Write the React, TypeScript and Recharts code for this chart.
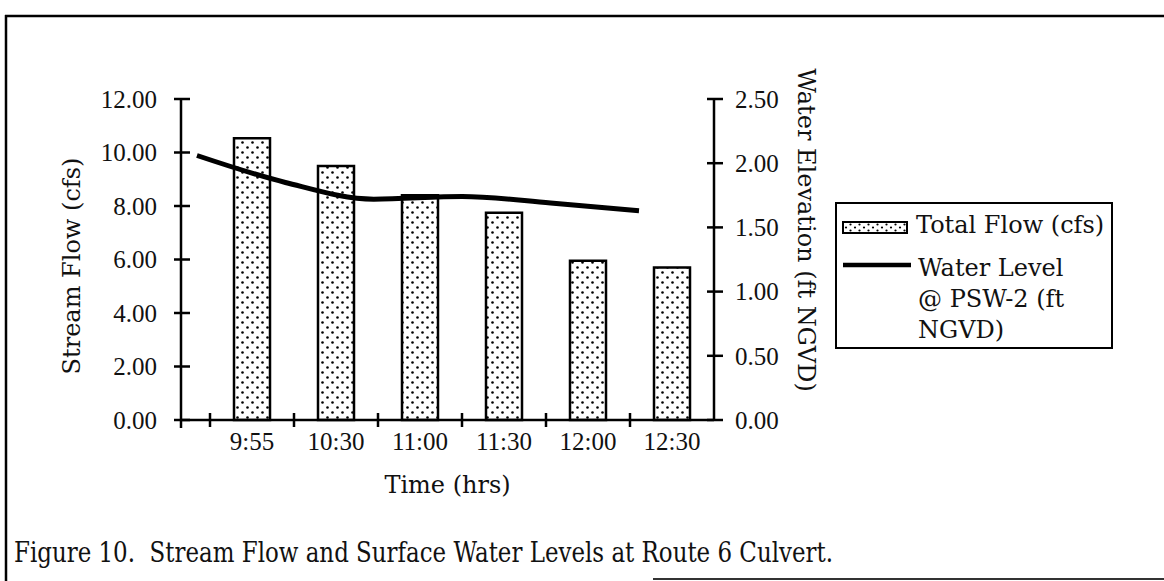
import React from "react";
import {
  ComposedChart,
  Bar,
  Line,
  XAxis,
  YAxis,
  Legend,
  Customized,
} from "recharts";

// values
const times = ["9:55", "10:30", "11:00", "11:30", "12:00", "12:30"];
const totalFlow = [10.53, 9.5, 8.4, 7.75, 5.95, 5.7];
const waterLevel = [2.06, 1.85, 1.72, 1.74, 1.69, 1.63];
const flowTicks = [0, 2, 4, 6, 8, 10, 12];
const levelTicks = [0, 0.5, 1, 1.5, 2, 2.5];

const flowName = "Total Flow (cfs)";
const levelNameLines = ["Water Level", "@ PSW-2 (ft", "NGVD)"];
const caption = "Figure 10.  Stream Flow and Surface Water Levels at Route 6 Culvert.";

const data = times.map((time, i) => ({
  time,
  pos: i,
  flow: totalFlow[i],
  level: waterLevel[i],
}));

// layout
const W = 1164;
const H = 581;
const PLOT_LEFT = 181;
const PLOT_RIGHT = 714;
const PLOT_TOP = 99;
const PLOT_BOTTOM = 420;
const AXIS_W = 100;
const X_AXIS_H = 60;
const CAT_PAD_LEFT = 29;
const HALF_BAND = (PLOT_RIGHT - PLOT_LEFT - CAT_PAD_LEFT) / times.length / 2;

const WORD_FONT = "'DejaVu Serif', serif";
const NUM_FONT = "'Liberation Serif', serif";

const FlowTick = (props: any) => {
  const { x, y, payload } = props;
  return (
    <g>
      <line x1={x - 7} x2={x + 9} y1={y} y2={y} stroke="#000" strokeWidth={2.5} />
      {payload.value === 0 && (
        <line x1={x} x2={x} y1={y} y2={y + 8} stroke="#000" strokeWidth={2.5} />
      )}
      <text
        x={x - 24}
        y={y}
        dy="0.35em"
        textAnchor="end"
        fontFamily={NUM_FONT}
        fontSize={25}
        fill="#111"
      >
        {Number(payload.value).toFixed(2)}
      </text>
    </g>
  );
};

const LevelTick = (props: any) => {
  const { x, y, payload } = props;
  return (
    <g>
      <line x1={x - 7} x2={x + 9} y1={y} y2={y} stroke="#000" strokeWidth={2.5} />
      <text
        x={x + 21}
        y={y}
        dy="0.35em"
        textAnchor="start"
        fontFamily={NUM_FONT}
        fontSize={25}
        fill="#111"
      >
        {Number(payload.value).toFixed(2)}
      </text>
    </g>
  );
};

const TimeTick = (props: any) => {
  const { x, y, payload } = props;
  return (
    <g>
      <line
        x1={x - HALF_BAND}
        x2={x - HALF_BAND}
        y1={y - 7}
        y2={y + 7}
        stroke="#000"
        strokeWidth={2.5}
      />
      <text
        x={x}
        y={y + 30}
        textAnchor="middle"
        fontFamily={NUM_FONT}
        fontSize={25}
        fill="#111"
      >
        {payload.value}
      </text>
    </g>
  );
};

const LegendBox = () => (
  <svg width={278} height={147} style={{ display: "block" }}>
    <rect x={1} y={1} width={276} height={145} fill="#fff" stroke="#000" strokeWidth={2} />
    <rect x={8} y={20} width={64} height={11} fill="url(#dotsSmall)" stroke="#000" strokeWidth={2} />
    <text x={81} y={31} fontFamily={WORD_FONT} fontSize={24} fill="#111">
      {flowName}
    </text>
    <line x1={8} x2={76} y1={63} y2={63} stroke="#000" strokeWidth={4.5} />
    {levelNameLines.map((t, i) => (
      <text
        key={t}
        x={83}
        y={74 + i * 31}
        fontFamily={WORD_FONT}
        fontSize={24}
        fill="#111"
      >
        {t}
      </text>
    ))}
  </svg>
);

const Frame = () => (
  <g>
    <line x1={5} x2={W} y1={16} y2={16} stroke="#000" strokeWidth={2.5} />
    <line x1={6} x2={6} y1={15} y2={H} stroke="#000" strokeWidth={2.5} />
    <line x1={653} x2={W} y1={579} y2={579} stroke="#333" strokeWidth={2} />
    <text
      transform="translate(72 266) rotate(-90)"
      textAnchor="middle"
      dominantBaseline="central"
      fontFamily={WORD_FONT}
      fontSize={24}
      fill="#111"
    >
      Stream Flow (cfs)
    </text>
    <text
      transform="translate(806 230) rotate(90)"
      textAnchor="middle"
      dominantBaseline="central"
      fontFamily={WORD_FONT}
      fontSize={24}
      fill="#111"
    >
      Water Elevation (ft NGVD)
    </text>
    <text
      x={(PLOT_LEFT + PLOT_RIGHT) / 2}
      y={493}
      textAnchor="middle"
      fontFamily={WORD_FONT}
      fontSize={24}
      fill="#111"
    >
      Time (hrs)
    </text>
    <text
      x={14}
      y={562}
      fontFamily={WORD_FONT}
      fontSize={27}
      textLength={819}
      lengthAdjust="spacingAndGlyphs"
      style={{ whiteSpace: "pre" }}
      fill="#111"
    >
      {caption}
    </text>
  </g>
);

export default function App() {
  return (
    <div style={{ position: "absolute", left: 0, top: 0, width: W, height: H, background: "#fff" }}>
      <svg width={0} height={0} style={{ position: "absolute" }}>
        <defs>
          <pattern id="dots" width={10} height={10} patternUnits="userSpaceOnUse">
            <rect width={10} height={10} fill="#fff" />
            <circle cx={2.5} cy={2.5} r={1.3} fill="#000" />
            <circle cx={7.5} cy={7.5} r={1.3} fill="#000" />
          </pattern>
          <pattern id="dotsSmall" width={9} height={6} patternUnits="userSpaceOnUse">
            <rect width={9} height={6} fill="#fff" />
            <circle cx={2} cy={1.5} r={1.1} fill="#000" />
            <circle cx={6.5} cy={4.5} r={1.1} fill="#000" />
          </pattern>
        </defs>
      </svg>
      <ComposedChart
        width={W}
        height={H}
        data={data}
        margin={{
          top: PLOT_TOP,
          left: PLOT_LEFT - AXIS_W,
          right: W - PLOT_RIGHT - AXIS_W,
          bottom: H - PLOT_BOTTOM - X_AXIS_H,
        }}
      >
        <XAxis
          xAxisId="cat"
          dataKey="time"
          height={X_AXIS_H}
          padding={{ left: CAT_PAD_LEFT, right: 0 }}
          tickSize={0}
          tickMargin={0}
          tick={(p: any) => <TimeTick {...p} />}
          axisLine={{ stroke: "#000", strokeWidth: 2.5 }}
          interval={0}
        />
        <XAxis
          xAxisId="pos"
          dataKey="pos"
          type="number"
          domain={[0, times.length - 1]}
          padding={{ left: 16, right: 75 }}
          hide
        />
        <YAxis
          yAxisId="flow"
          orientation="left"
          width={AXIS_W}
          domain={[0, 12]}
          ticks={flowTicks}
          tickSize={0}
          tickMargin={0}
          tick={(p: any) => <FlowTick {...p} />}
          axisLine={{ stroke: "#000", strokeWidth: 2.5 }}
          interval={0}
        />
        <YAxis
          yAxisId="level"
          orientation="right"
          width={AXIS_W}
          domain={[0, 2.5]}
          ticks={levelTicks}
          tickSize={0}
          tickMargin={0}
          tick={(p: any) => <LevelTick {...p} />}
          axisLine={{ stroke: "#000", strokeWidth: 2.5 }}
          interval={0}
        />
        <Bar
          xAxisId="cat"
          yAxisId="flow"
          dataKey="flow"
          name={flowName}
          barSize={36}
          fill="url(#dots)"
          stroke="#000"
          strokeWidth={2.5}
          isAnimationActive={false}
        />
        <Line
          xAxisId="pos"
          yAxisId="level"
          dataKey="level"
          name={levelNameLines.join(" ")}
          type="monotone"
          stroke="#000"
          strokeWidth={5}
          dot={false}
          isAnimationActive={false}
        />
        <Legend
          layout="vertical"
          align="center"
          verticalAlign="middle"
          wrapperStyle={{ left: 835, top: 202, width: 278, height: 147 }}
          content={() => <LegendBox />}
        />
        <Customized component={Frame} />
      </ComposedChart>
    </div>
  );
}
